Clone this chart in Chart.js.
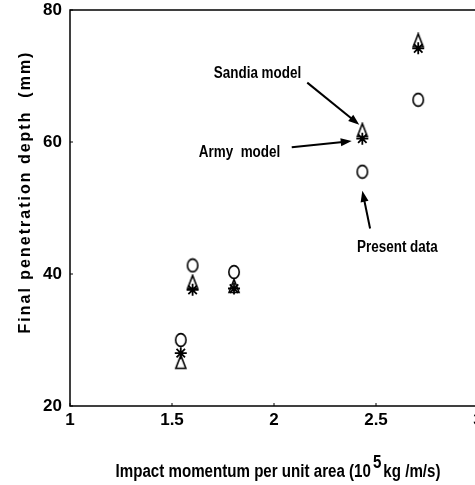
<!DOCTYPE html>
<html>
<head>
<meta charset="utf-8">
<script src="https://cdn.jsdelivr.net/npm/chart.js@4.4.0/dist/chart.umd.min.js"></script>
<style>
  html, body { margin: 0; padding: 0; background: #fff; overflow: hidden; }
  #wrap { width: 490px; height: 485px; }
</style>
</head>
<body>
<div id="wrap"><canvas id="myChart"></canvas></div>
<script>
// impact momentum per unit area (10^5 kg/m/s)
const momentum = [1.543, 1.601, 1.804, 2.433, 2.707];
// final penetration depth (mm)
const presentData = [30.0, 41.3, 40.3, 55.5, 66.4];
const sandiaModel = [26.7, 38.8, 38.2, 61.8, 75.4];
const armyModel = [28.0, 37.6, 37.8, 60.5, 74.2];

const xTicks = [1, 1.5, 2, 2.5, 3];
const yTicks = [20, 40, 60, 80];

// labels + arrows, in data units
const notes = [
  { text: "Sandia model", at: [1.919, 70.3], from: [2.163, 69.0], to: [2.418, 62.6] },
  { text: "Army  model", at: [1.831, 58.4], from: [2.087, 59.2], to: [2.381, 60.15] },
  { text: "Present data", at: [2.605, 44.0], from: [2.471, 46.9], to: [2.433, 52.6] },
];

const FONT = '"Liberation Sans", Arial, sans-serif';
const SQUEEZE = 0.84; // scan uses a narrow bold face

function toPoints(ys) {
  return momentum.map((x, i) => ({ x: x, y: ys[i] }));
}

// hollow marker images (taller than wide, like the scan)
function ellipseMark() {
  const c = document.createElement("canvas");
  c.width = 14; c.height = 16;
  const g = c.getContext("2d");
  g.lineWidth = 1.6;
  g.strokeStyle = "#000";
  g.beginPath();
  g.ellipse(7, 8, 5.2, 6.4, 0, 0, Math.PI * 2);
  g.stroke();
  return c;
}
function triangleMark() {
  const c = document.createElement("canvas");
  c.width = 14; c.height = 16;
  const g = c.getContext("2d");
  g.lineWidth = 1.6;
  g.strokeStyle = "#000";
  g.beginPath();
  g.moveTo(7, 1.5);
  g.lineTo(12, 14.5);
  g.lineTo(2, 14.5);
  g.closePath();
  g.stroke();
  return c;
}

// text squeezed horizontally, x is the left edge
function narrowText(ctx, text, x, y, size) {
  ctx.save();
  ctx.font = "bold " + size + "px " + FONT;
  ctx.translate(x, y);
  ctx.scale(SQUEEZE, 1);
  ctx.textAlign = "left";
  ctx.fillText(text, 0, 0);
  ctx.restore();
}
function narrowWidth(ctx, text, size) {
  ctx.font = "bold " + size + "px " + FONT;
  return ctx.measureText(text).width * SQUEEZE;
}

const decor = {
  id: "decor",
  afterDraw(chart) {
    const ctx = chart.ctx;
    const a = chart.chartArea;
    const xs = chart.scales.x, ys = chart.scales.y;
    ctx.save();
    ctx.strokeStyle = "#000";
    ctx.fillStyle = "#000";

    // frame
    ctx.lineWidth = 1.5;
    ctx.strokeRect(a.left, a.top, a.right - a.left, a.bottom - a.top);

    // small inward ticks
    ctx.lineWidth = 1;
    ctx.beginPath();
    yTicks.forEach(v => {
      const y = ys.getPixelForValue(v);
      ctx.moveTo(a.left, y); ctx.lineTo(a.left + 3, y);
    });
    xTicks.forEach(v => {
      const x = xs.getPixelForValue(v);
      ctx.moveTo(x, a.bottom); ctx.lineTo(x, a.bottom - 3);
    });
    ctx.stroke();

    // annotations
    ctx.textBaseline = "middle";
    notes.forEach(n => {
      const w = narrowWidth(ctx, n.text, 16);
      narrowText(ctx, n.text, xs.getPixelForValue(n.at[0]) - w / 2, ys.getPixelForValue(n.at[1]), 16);
      const x1 = xs.getPixelForValue(n.from[0]), y1 = ys.getPixelForValue(n.from[1]);
      const x2 = xs.getPixelForValue(n.to[0]), y2 = ys.getPixelForValue(n.to[1]);
      const ang = Math.atan2(y2 - y1, x2 - x1);
      const hl = 11, hw = 4;
      ctx.lineWidth = 2;
      ctx.beginPath();
      ctx.moveTo(x1, y1);
      ctx.lineTo(x2 - Math.cos(ang) * hl * 0.8, y2 - Math.sin(ang) * hl * 0.8);
      ctx.stroke();
      ctx.beginPath();
      ctx.moveTo(x2, y2);
      ctx.lineTo(x2 - Math.cos(ang) * hl - Math.sin(ang) * hw, y2 - Math.sin(ang) * hl + Math.cos(ang) * hw);
      ctx.lineTo(x2 - Math.cos(ang) * hl + Math.sin(ang) * hw, y2 - Math.sin(ang) * hl - Math.cos(ang) * hw);
      ctx.closePath();
      ctx.fill();
    });

    // x title with superscript
    ctx.textBaseline = "alphabetic";
    const p1 = "Impact momentum per unit area (10", sup = "5", p2 = "kg /m/s)";
    const w1 = narrowWidth(ctx, p1, 18), w2 = narrowWidth(ctx, sup, 18), w3 = narrowWidth(ctx, p2, 18);
    const gap = 2;
    let x = 278 - (w1 + gap + w2 + gap + w3) / 2;
    narrowText(ctx, p1, x, 477, 18);
    x += w1 + gap;
    narrowText(ctx, sup, x, 468, 18);
    x += w2 + gap;
    narrowText(ctx, p2, x, 477, 18);

    // y title
    ctx.translate(26, 192);
    ctx.rotate(-Math.PI / 2);
    ctx.font = "bold 16px " + FONT;
    ctx.letterSpacing = "2px";
    ctx.textAlign = "center";
    ctx.textBaseline = "middle";
    ctx.fillText("Final penetration depth  (mm)", 0, 0);
    ctx.restore();
  }
};

const data = {
  datasets: [
    {
      label: "Army model",
      data: toPoints(armyModel),
      pointStyle: "star",
      pointRadius: 6,
      borderColor: "#000",
      borderWidth: 1.8,
      backgroundColor: "#000",
    },
    {
      label: "Sandia model",
      data: toPoints(sandiaModel),
      pointStyle: triangleMark(),
    },
    {
      label: "Present data",
      data: toPoints(presentData),
      pointStyle: ellipseMark(),
    },
  ],
};

const config = {
  type: "scatter",
  data: data,
  options: {
    responsive: true,
    maintainAspectRatio: false,
    animation: false,
    events: [],
    layout: { padding: { top: 10, right: 12, left: 0, bottom: 0 } },
    plugins: { legend: { display: false }, tooltip: { enabled: false } },
    scales: {
      x: {
        type: "linear",
        min: 1,
        max: 3,
        afterBuildTicks: s => { s.ticks = xTicks.map(v => ({ value: v })); },
        afterFit: s => { s.height = 79; },
        grid: { display: false, drawTicks: false },
        border: { display: false },
        ticks: {
          color: "#000",
          padding: 6,
          maxRotation: 0,
          callback: v => String(v),
          font: { family: FONT, size: 17, weight: "bold", lineHeight: 1 },
        },
      },
      y: {
        type: "linear",
        min: 20,
        max: 80,
        afterBuildTicks: s => { s.ticks = yTicks.map(v => ({ value: v })); },
        afterFit: s => { s.width = 70; s.paddingTop = 0; s.paddingBottom = 0; },
        grid: { display: false, drawTicks: false },
        border: { display: false },
        ticks: {
          color: "#000",
          padding: 8,
          callback: v => String(v),
          font: { family: FONT, size: 17, weight: "bold", lineHeight: 1 },
        },
      },
    },
  },
  plugins: [decor],
};

const myChart = new Chart(document.getElementById("myChart"), config);
</script>
</body>
</html>
